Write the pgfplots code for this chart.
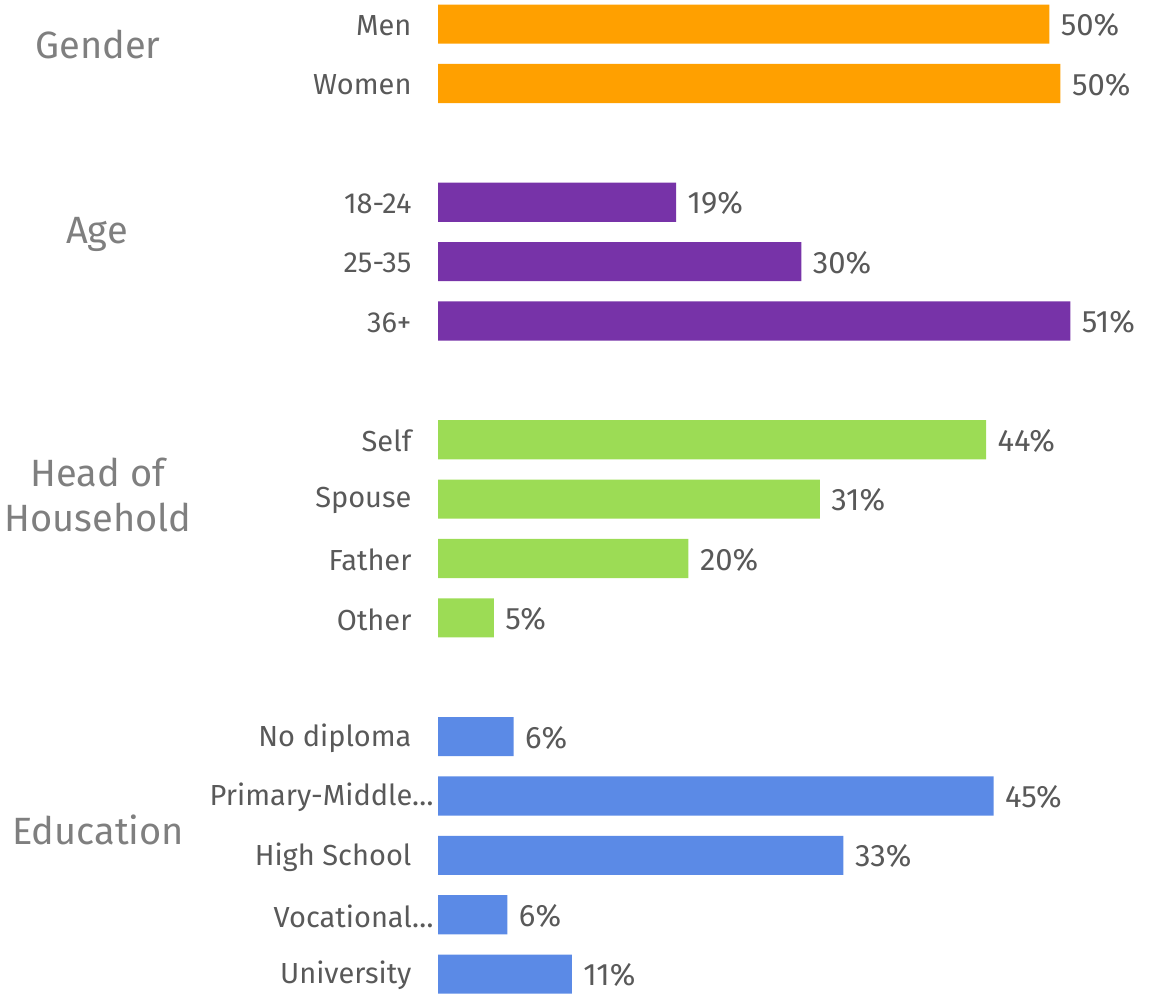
\documentclass[border=0pt]{standalone}
\usepackage{pgfplots}
\pgfplotsset{compat=1.18}
\usepackage{fontspec}
\setmainfont{Fira Sans}
\definecolor{orng}{HTML}{FFA000}
\definecolor{purp}{HTML}{7733A8}
\definecolor{grn}{HTML}{9CDC55}
\definecolor{blu}{HTML}{5B8AE6}
\definecolor{txt}{HTML}{595959}
\definecolor{grp}{HTML}{7F7F7F}
\begin{document}
\begin{tikzpicture}
\path[use as bounding box] (0,0) rectangle (1150pt,993pt);
\begin{axis}[
    at={(438pt,988.5pt)}, anchor=north west,
    scale only axis, width=694.4pt, height=989.2pt,
    xbar, bar shift=0pt, bar width=0.66,
    xmin=0, xmax=56, ymin=-0.33, ymax=16.33, y dir=reverse,
    axis line style={draw=none}, major tick length=0pt, xtick=\empty,
    ytick={0,1,3,4,5,7,8,9,10,12,13,14,15,16},
    yticklabels={Men,Women,18-24,25-35,36+,Self,Spouse,Father,Other,No diploma,{Primary-Middle\ldots\kern-22pt},High School,{Vocational\ldots\kern-22pt},University},
    yticklabel style={font=\fontsize{29}{34}\selectfont, text=txt, xshift=-23pt, yshift=-1.5pt},
    point meta=explicit symbolic,
    nodes near coords={\pgfplotspointmeta\%},
    every node near coord/.append style={font=\fontsize{31}{36}\selectfont, text=txt, anchor=west, xshift=8pt, yshift=-1pt},
    clip=false,
]
\addplot[fill=orng, draw=none] coordinates {(49.3,0) [50] (50.2,1) [50]};
\addplot[fill=purp, draw=none] coordinates {(19.2,3) [19] (29.3,4) [30] (51.0,5) [51]};
\addplot[fill=grn, draw=none] coordinates {(44.2,7) [44] (30.8,8) [31] (20.2,9) [20] (4.5,10) [5]};
\addplot[fill=blu, draw=none] coordinates {(6.1,12) [6] (44.8,13) [45] (32.7,14) [33] (5.6,15) [6] (10.8,16) [11]};
\end{axis}
\begin{scope}[every node/.style={font=\fontsize{38}{45}\selectfont, text=grp, align=center}]
\node at (98pt,949pt) {Gender};
\node at (97pt,759pt) {Age};
\node at (98pt,498.5pt) {Head of\\Household};
\node at (98pt,163pt) {Education};
\end{scope}
\end{tikzpicture}
\end{document}
